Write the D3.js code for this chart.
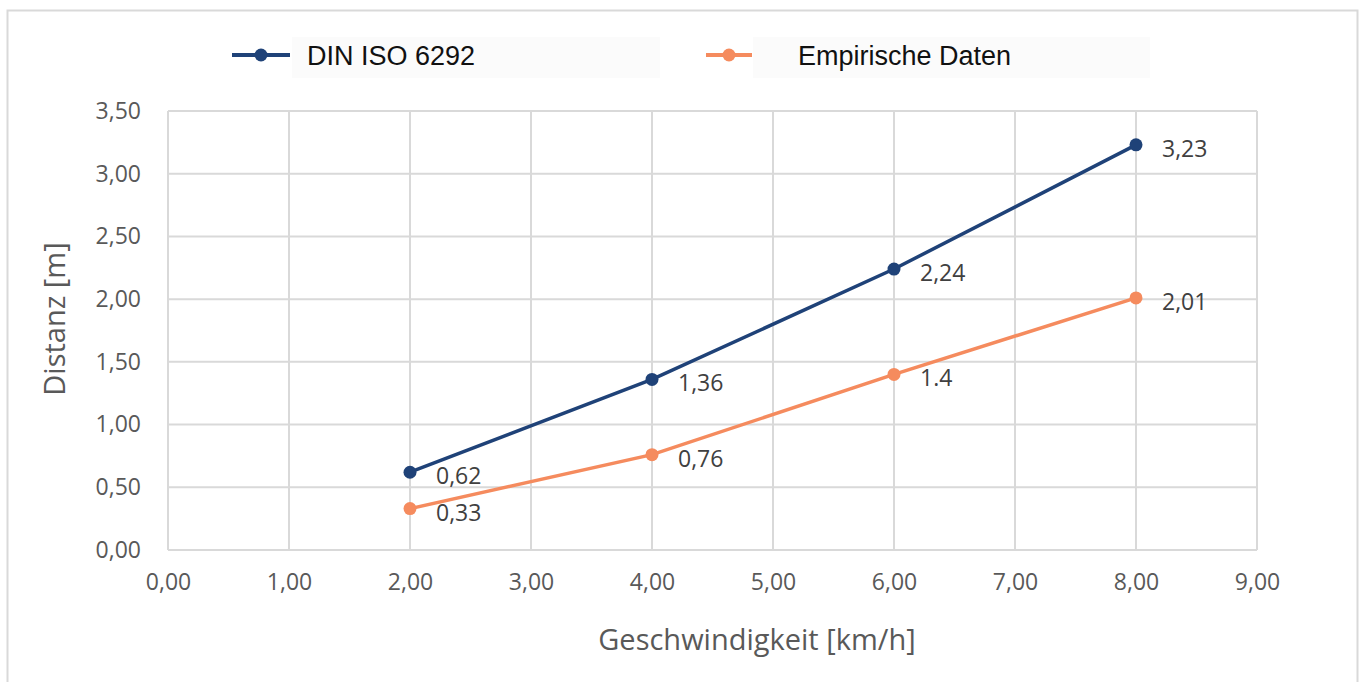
<!DOCTYPE html>
<html><head><meta charset="utf-8">
<script src="https://cdn.jsdelivr.net/npm/d3@7"></script>
<style>body{margin:0;background:#fff;}svg{display:block;}</style>
</head><body>
<svg id="c" width="1366" height="682"></svg>
<script>
const xValues = [2, 4, 6, 8];
const dinValues = [0.62, 1.36, 2.24, 3.23];
const empValues = [0.33, 0.76, 1.40, 2.01];
const dinLabels = ["0,62", "1,36", "2,24", "3,23"];
const empLabels = ["0,33", "0,76", "1.4", "2,01"];
const seriesNames = ["DIN ISO 6292", "Empirische Daten"];
const xTicks = [0,1,2,3,4,5,6,7,8,9];
const yTicks = [0,0.5,1,1.5,2,2.5,3,3.5];
const xTitle = "Geschwindigkeit [km/h]";
const yTitle = "Distanz [m]";

const colors = ["#1f4278", "#f58b5e"];
const svg = d3.select("#c");
const fmt = v => v.toFixed(2).replace(".", ",");
const font = "'Open Sans', 'Noto Sans', sans-serif";

// outer frame
svg.append("rect").attr("x",7.5).attr("y",10.5).attr("width",1350).attr("height",690)
  .attr("fill","#fff").attr("stroke","#d9d9d9").attr("stroke-width",2);

const x = d3.scaleLinear().domain([0,9]).range([168,1257]);
const y = d3.scaleLinear().domain([0,3.5]).range([550,111]);

const g = svg.append("g");
g.selectAll("line.h").data(yTicks).join("line")
  .attr("x1",x(0)).attr("x2",x(9)).attr("y1",d=>y(d)).attr("y2",d=>y(d))
  .attr("stroke","#d9d9d9").attr("stroke-width",2);
g.selectAll("line.v").data(xTicks).join("line")
  .attr("y1",y(0)).attr("y2",y(3.5)).attr("x1",d=>x(d)).attr("x2",d=>x(d))
  .attr("stroke","#d9d9d9").attr("stroke-width",2);

const xAxis = svg.append("g").attr("transform",`translate(0,${y(0)})`)
  .call(d3.axisBottom(x).tickValues(xTicks).tickFormat(fmt).tickSize(0).tickPadding(24));
const yAxis = svg.append("g").attr("transform",`translate(${x(0)},0)`)
  .call(d3.axisLeft(y).tickValues(yTicks).tickFormat(fmt).tickSize(0).tickPadding(27));
[xAxis,yAxis].forEach(a=>{
  a.select(".domain").remove();
  a.selectAll("text").attr("fill","#595959").style("font-family",font).style("font-size","23px");
});

const line = d3.line().x((d,i)=>x(xValues[i])).y(d=>y(d));
[dinValues, empValues].forEach((vals,k)=>{
  svg.append("path").datum(vals).attr("d",line).attr("fill","none")
    .attr("stroke",colors[k]).attr("stroke-width",3.5);
  svg.selectAll(null).data(vals).join("circle")
    .attr("cx",(d,i)=>x(xValues[i])).attr("cy",d=>y(d)).attr("r",6.5).attr("fill",colors[k]);
  const labs = k===0 ? dinLabels : empLabels;
  svg.selectAll(null).data(vals).join("text")
    .attr("x",(d,i)=>x(xValues[i])+26).attr("y",d=>y(d)+12)
    .attr("fill","#404040").style("font-family",font).style("font-size","23px")
    .text((d,i)=>labs[i]);
});

svg.append("text").attr("x",757).attr("y",650).attr("text-anchor","middle")
  .attr("fill","#595959").style("font-family",font).style("font-size","29px").text(xTitle);
svg.append("text").attr("transform","translate(65,319) rotate(-90)").attr("text-anchor","middle")
  .attr("fill","#595959").style("font-family",font).style("font-size","29px").text(yTitle);

const legend = [{x0:232,x1:290,tx:307,bx:292,bw:368},{x0:706,x1:752,tx:798,bx:753,bw:397}];
legend.forEach((L,k)=>{
  svg.append("rect").attr("x",L.bx).attr("y",37).attr("width",L.bw).attr("height",41).attr("fill","#fbfbfb");
  svg.append("line").attr("x1",L.x0).attr("x2",L.x1).attr("y1",55).attr("y2",55)
    .attr("stroke",colors[k]).attr("stroke-width",4);
  svg.append("circle").attr("cx",(L.x0+L.x1)/2).attr("cy",55).attr("r",6.5).attr("fill",colors[k]);
  svg.append("text").attr("x",L.tx).attr("y",65).attr("fill","#111")
    .style("font-family","'Liberation Sans', Arial, sans-serif").style("font-size","27px").text(seriesNames[k]);
});
</script>
</body></html>
